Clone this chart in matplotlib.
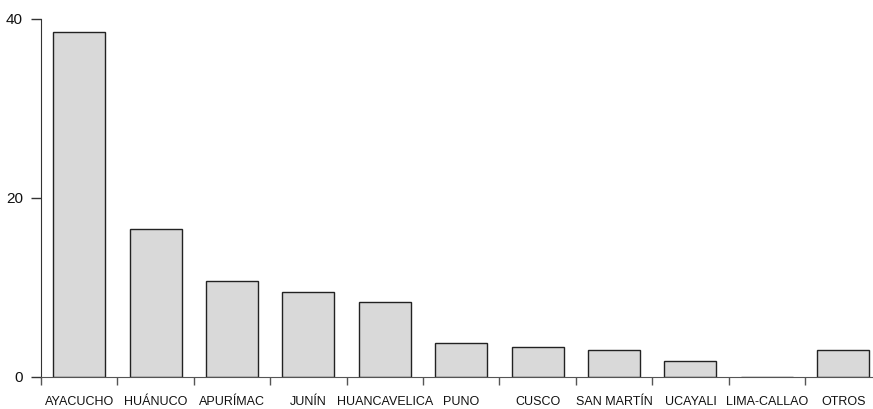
import matplotlib
matplotlib.use("Agg")
import matplotlib.pyplot as plt
from matplotlib import font_manager

# departamentos y valores
departamentos = ["AYACUCHO", "HUÁNUCO", "APURÍMAC", "JUNÍN", "HUANCAVELICA", "PUNO",
                 "CUSCO", "SAN MARTÍN", "UCAYALI", "LIMA-CALLAO", "OTROS"]
valores = [38.5, 16.5, 10.7, 9.5, 8.4, 3.8, 3.4, 3.0, 1.8, 0.0, 3.0]
yticks = [0, 20, 40]

nombres = {f.name for f in font_manager.fontManager.ttflist}
fuente_x = "Liberation Sans Narrow" if "Liberation Sans Narrow" in nombres else "Liberation Sans"

fig = plt.figure(figsize=(8.73, 4.09), dpi=100)
ax = fig.add_axes([41 / 873, 32 / 409, 832 / 873, 358 / 409])

x = list(range(len(departamentos)))
ax.bar(x, valores, width=0.68, color="#d9d9d9", edgecolor="#222222", linewidth=1)

ax.set_xlim(-0.5, -0.5 + 832 / 76.4)
ax.set_ylim(0, 40)

# etiquetas centradas en las barras, marcas entre barras
ax.set_xticks(x)
ax.set_xticklabels(departamentos, fontfamily=fuente_x, fontsize=9, color="#111111")
ax.tick_params(axis="x", which="major", length=0, pad=14)
ax.set_xticks([i - 0.5 for i in x], minor=True)
ax.tick_params(axis="x", which="minor", length=6, width=1, color="#555555")

ax.set_yticks(yticks)
ax.set_yticklabels([str(v) for v in yticks], fontfamily="Liberation Sans", fontsize=11, color="#111111")
ax.tick_params(axis="y", length=7, width=1, color="#333333", pad=6)

for lado in ["top", "right"]:
    ax.spines[lado].set_visible(False)
ax.spines["left"].set_color("#333333")
ax.spines["bottom"].set_color("#555555")

fig.savefig("out.png", dpi=100)
